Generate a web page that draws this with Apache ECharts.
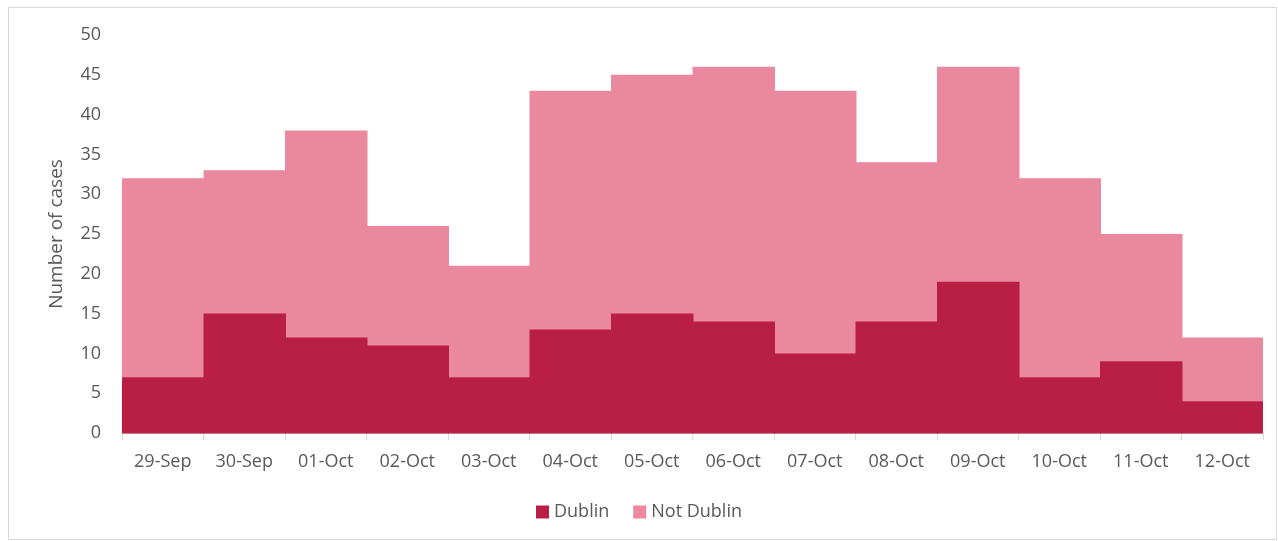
<!DOCTYPE html>
<html>
<head>
<meta charset="utf-8">
<script src="https://cdn.jsdelivr.net/npm/echarts@6/dist/echarts.min.js"></script>
<style>
  html, body { margin: 0; padding: 0; background: #fff; }
  #frame { position: absolute; left: 8px; top: 7px; width: 1269px; height: 533px; border: 1px solid #d9d9d9; box-sizing: border-box; }
  #chart { position: absolute; left: 0; top: 0; width: 1278px; height: 541px; }
</style>
</head>
<body>
<div id="frame"></div>
<div id="chart"></div>
<script type="text/javascript">
    // dates on the x axis
    var days = ['29-Sep', '30-Sep', '01-Oct', '02-Oct', '03-Oct', '04-Oct', '05-Oct',
                '06-Oct', '07-Oct', '08-Oct', '09-Oct', '10-Oct', '11-Oct', '12-Oct'];
    // cases per day
    var dublin    = [7, 15, 12, 11, 7, 13, 15, 14, 10, 14, 19, 7, 9, 4];
    var notDublin = [25, 18, 26, 15, 14, 30, 30, 32, 33, 20, 27, 25, 16, 8];

    var chart = echarts.init(document.getElementById('chart'));

    var textFont = '"Open Sans", "Liberation Sans", sans-serif';

    // stacked blocks: [day index, bottom, top]
    function blocks(base, vals) {
        return vals.map(function (v, i) {
            var b = base ? base[i] : 0;
            return [i, b, b + v];
        });
    }

    // bars that touch each other, drawn a hair wider so no seams show
    function renderBlock(params, api) {
        var i = api.value(0);
        var lo = api.coord([i, api.value(1)]);
        var hi = api.coord([i, api.value(2)]);
        var w = api.size([1, 0])[0];
        var last = i === days.length - 1;
        return {
            type: 'rect',
            shape: {
                x: lo[0] - w / 2,
                y: hi[1],
                width: w + (last ? 0 : 1),
                height: lo[1] - hi[1] + 0.5
            },
            style: { fill: api.visual('color') }
        };
    }

    var option = {
        animation: false,
        textStyle: { fontFamily: textFont },
        legend: {
            bottom: 15,
            left: 'center',
            icon: 'rect',
            itemWidth: 13,
            itemHeight: 13,
            itemGap: 24,
            textStyle: { fontSize: 18, color: '#595959', fontFamily: textFont },
            data: ['Dublin', 'Not Dublin']
        },
        grid: { left: 122, right: 15, top: 35, bottom: 108 },
        xAxis: {
            type: 'category',
            data: days,
            axisLine: { lineStyle: { color: '#d9d9d9', width: 1 } },
            axisTick: { show: true, length: 7, lineStyle: { color: '#d9d9d9' } },
            axisLabel: { fontSize: 18, color: '#595959', margin: 20, interval: 0 }
        },
        yAxis: {
            type: 'value',
            min: 0,
            max: 50,
            interval: 5,
            name: 'Number of cases',
            nameLocation: 'middle',
            nameGap: 56,
            nameTextStyle: { fontSize: 19, color: '#595959' },
            splitLine: { show: false },
            axisLine: { show: false },
            axisTick: { show: false },
            axisLabel: { fontSize: 18, color: '#595959', margin: 21 }
        },
        series: [{
            name: 'Not Dublin',
            type: 'custom',
            z: 2,
            renderItem: renderBlock,
            itemStyle: { color: '#E9889F' },
            encode: { x: 0, y: [1, 2] },
            data: blocks(dublin, notDublin)
        }, {
            name: 'Dublin',
            type: 'custom',
            z: 3,
            renderItem: renderBlock,
            itemStyle: { color: '#B91F44' },
            encode: { x: 0, y: [1, 2] },
            data: blocks(null, dublin)
        }]
    };

    chart.setOption(option);
</script>
</body>
</html>
